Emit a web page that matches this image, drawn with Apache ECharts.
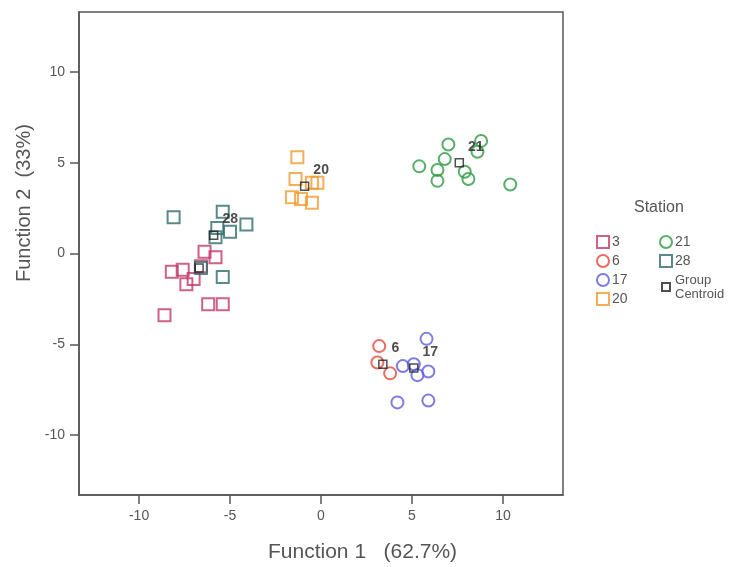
<!DOCTYPE html>
<html>
<head>
<meta charset="utf-8">
<script src="https://cdn.jsdelivr.net/npm/echarts@6/dist/echarts.min.js"></script>
<style>
  html, body { margin: 0; padding: 0; background: #fff; }
  #chart { width: 744px; height: 567px; }
</style>
</head>
<body>
<div id="chart"></div>
<script>
// discriminant scores per station [function1, function2]
const station3 = [[-6.4, 0.1], [-5.8, -0.2], [-8.2, -1.0], [-7.6, -0.9], [-7.4, -1.7],
  [-7.0, -1.4], [-6.2, -2.8], [-5.4, -2.8], [-8.6, -3.4], [-6.6, -0.7]]
const station6 = [[3.2, -5.1], [3.1, -6.0], [3.8, -6.6]]
const station17 = [[4.5, -6.2], [5.1, -6.1], [5.3, -6.7], [5.9, -6.5], [5.8, -4.7],
  [4.2, -8.2], [5.9, -8.1]]
const station20 = [[-1.3, 5.3], [-1.4, 4.1], [-0.5, 3.9], [-0.2, 3.9], [-1.6, 3.1],
  [-1.1, 3.0], [-0.5, 2.8]]
const station21 = [[5.4, 4.8], [7.0, 6.0], [6.8, 5.2], [6.4, 4.6], [6.4, 4.0], [7.9, 4.5],
  [8.1, 4.1], [8.8, 6.2], [8.6, 5.6], [10.4, 3.8]]
const station28 = [[-8.1, 2.0], [-5.4, 2.3], [-4.1, 1.6], [-5.7, 1.4], [-5.8, 0.9],
  [-5.0, 1.2], [-5.4, -1.3], [-6.6, -0.8]]
const centroidNames = ['3', '6', '17', '20', '21', '28']
const centroids = [[-6.7, -0.8], [3.4, -6.1], [5.1, -6.3], [-0.9, 3.7], [7.6, 5.0], [-5.9, 1.0]]
const tickValues = [-10, -5, 0, 5, 10]

const colors = {
  '3': '#c2386b', '6': '#e8463a', '17': '#5b5bdc',
  '20': '#f29a2e', '21': '#2e9a44', '28': '#2f6b6b'
}

function group(name, data, symbol) {
  return {
    name: name,
    type: 'scatter',
    data: data,
    symbol: symbol,
    symbolSize: 12,
    itemStyle: { color: 'rgba(255,255,255,0)', borderColor: colors[name], borderWidth: 2 }
  }
}

function axis() {
  return {
    type: 'value',
    min: -13.3,
    max: 13.3,
    splitLine: { show: false },
    axisLine: { onZero: false, lineStyle: { color: '#555', width: 1.5 } },
    axisTick: { customValues: tickValues, length: 9, lineStyle: { color: '#555', width: 1.5 } },
    axisLabel: {
      customValues: tickValues,
      margin: 14,
      color: '#555',
      fontSize: 14,
      fontFamily: 'Liberation Sans'
    }
  }
}

const legendText = { fontSize: 14, color: '#555', fontFamily: 'Liberation Sans', padding: [0, 0, 0, -2] }

const chart = echarts.init(document.getElementById('chart'))
chart.setOption({
  animation: false,
  backgroundColor: '#fff',
  grid: {
    left: 79, top: 12, width: 484, height: 483,
    show: true, borderColor: '#555', borderWidth: 1.5, backgroundColor: '#fff'
  },
  xAxis: axis(),
  yAxis: axis(),
  title: {
    text: 'Station',
    left: 629, top: 195,
    textStyle: { fontSize: 16, fontWeight: 'normal', color: '#555', fontFamily: 'Liberation Sans' }
  },
  legend: [
    {
      data: ['3', '6', '17', '20'],
      orient: 'vertical', left: 591, top: 230,
      itemWidth: 12, itemHeight: 12, itemGap: 5,
      textStyle: legendText
    },
    {
      data: ['21', '28'],
      orient: 'vertical', left: 654, top: 230,
      itemWidth: 12, itemHeight: 12, itemGap: 5,
      textStyle: legendText
    },
    {
      data: ['Group Centroid'],
      orient: 'vertical', left: 656, top: 268,
      itemWidth: 8, itemHeight: 8,
      formatter: function () { return 'Group\nCentroid' },
      textStyle: Object.assign({}, legendText, { fontSize: 13, lineHeight: 14, padding: [0, 0, 0, 0] })
    }
  ],
  graphic: [
    {
      type: 'text', left: 268, top: 542,
      style: { text: 'Function 1   (62.7%)', fontSize: 21, fill: '#555', fontFamily: 'Liberation Sans' }
    },
    {
      type: 'text', x: 14, y: 282, rotation: Math.PI / 2,
      style: { text: 'Function 2  (33%)', fontSize: 20, fill: '#555', fontFamily: 'Liberation Sans' }
    }
  ],
  series: [
    group('3', station3, 'rect'),
    group('6', station6, 'circle'),
    group('17', station17, 'circle'),
    group('20', station20, 'rect'),
    group('21', station21, 'circle'),
    group('28', station28, 'rect'),
    {
      name: 'Group Centroid',
      type: 'scatter',
      symbol: 'rect',
      symbolSize: 8,
      z: 5,
      itemStyle: { color: 'rgba(255,255,255,0)', borderColor: '#222', borderWidth: 1.5 },
      data: centroids.map(function (c, i) {
        return {
          value: c,
          name: centroidNames[i],
          label: { show: centroidNames[i] !== '3' }
        }
      }),
      label: {
        position: 'right',
        distance: 4,
        offset: [0, -16],
        formatter: '{b}',
        fontSize: 14,
        fontWeight: 'bold',
        color: '#222',
        fontFamily: 'Liberation Sans'
      }
    }
  ]
})
</script>
</body>
</html>
